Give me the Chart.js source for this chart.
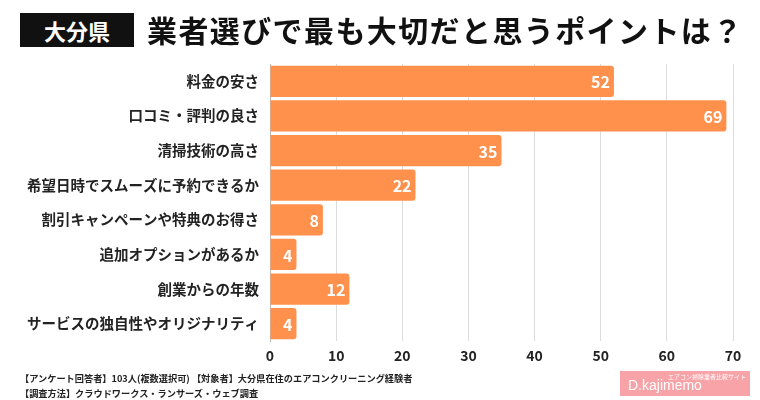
<!DOCTYPE html>
<html>
<head>
<meta charset="utf-8">
<script src="https://cdn.jsdelivr.net/npm/chart.js@4"></script>
<style>
  body { margin: 0; background: #fff; font-family: "Noto Sans CJK JP", sans-serif; }
  #wrap { position: relative; width: 760px; height: 400px; overflow: hidden; }
  #chart { position: absolute; left: 0; top: 0; }
  .badge { position: absolute; left: 20px; top: 13px; width: 114px; height: 34px; background: #111; color: #fff;
           font-weight: 700; font-size: 22px; line-height: 34px; text-align: center; }
  .title { position: absolute; left: 147px; top: 9px; font-weight: 700; font-size: 30px; line-height: 40px; color: #111; letter-spacing: 1.4px; }
  .note { position: absolute; left: 20px; font-weight: 700; font-size: 9.2px; color: #222; white-space: nowrap; }
  .logo { position: absolute; left: 620px; top: 371px; width: 130px; height: 25px; background: #f7a3a8; color: #fff; }
  .logo .s { position: absolute; left: 48px; top: 1px; font-size: 6px; }
  .logo .b { position: absolute; left: 8px; top: 6px; font-size: 14px; font-family: "Liberation Sans", sans-serif; }
</style>
</head>
<body>
<div id="wrap">
  <canvas id="chart" width="760" height="400"></canvas>
  <div class="badge">大分県</div>
  <div class="title">業者選びで最も大切だと思うポイントは？</div>
  <div class="note" style="top:371px">【アンケート回答者】103人(複数選択可) 【対象者】大分県在住のエアコンクリーニング経験者</div>
  <div class="note" style="top:386px">【調査方法】クラウドワークス・ランサーズ・ウェブ調査</div>
  <div class="logo"><span class="s">エアコン掃除業者比較サイト</span><span class="b">D.kajimemo</span></div>
</div>
<script>
const categories = [
  '料金の安さ',
  '口コミ・評判の良さ',
  '清掃技術の高さ',
  '希望日時でスムーズに予約できるか',
  '割引キャンペーンや特典のお得さ',
  '追加オプションがあるか',
  '創業からの年数',
  'サービスの独自性やオリジナリティ'
];
const counts = [52, 69, 35, 22, 8, 4, 12, 4];
const xTicks = [0, 10, 20, 30, 40, 50, 60, 70];

const barColor = '#ff914d';
const fontFamily = '"Noto Sans CJK JP", sans-serif';

// white value labels at the end of each bar
const valueLabels = {
  id: 'valueLabels',
  afterDatasetsDraw(chart) {
    const ctx = chart.ctx;
    const meta = chart.getDatasetMeta(0);
    ctx.save();
    ctx.fillStyle = '#fff';
    ctx.font = `700 16px ${fontFamily}`;
    ctx.textAlign = 'right';
    ctx.textBaseline = 'middle';
    meta.data.forEach((bar, i) => {
      ctx.fillText(String(counts[i]), bar.x - 4, bar.y + 1);
    });
    ctx.restore();
  }
};

new Chart(document.getElementById('chart'), {
  type: 'bar',
  data: {
    labels: categories,
    datasets: [{
      data: counts,
      backgroundColor: barColor,
      borderRadius: { topRight: 3, bottomRight: 3 },
      borderSkipped: 'start',
      barPercentage: 0.9,
      categoryPercentage: 1.0
    }]
  },
  options: {
    indexAxis: 'y',
    responsive: false,
    animation: false,
    layout: { padding: { top: 64, right: 27, bottom: 34, left: 0 } },
    plugins: { legend: { display: false }, tooltip: { enabled: false } },
    scales: {
      x: {
        min: 0,
        max: 70,
        afterBuildTicks(axis) { axis.ticks = xTicks.map(v => ({ value: v })); },
        grid: { color: '#dcdcdc', drawTicks: false },
        border: { display: false },
        ticks: { color: '#222', padding: 6, font: { family: fontFamily, size: 14, weight: '700' } },
        afterFit(axis) { axis.height = 25; }
      },
      y: {
        grid: { display: false },
        border: { color: '#bbb', width: 1 },
        ticks: { color: '#222', padding: 3, font: { family: fontFamily, size: 14.5, weight: '700' } },
        afterFit(axis) { axis.width = 270; }
      }
    }
  },
  plugins: [valueLabels]
});
</script>
</body>
</html>
